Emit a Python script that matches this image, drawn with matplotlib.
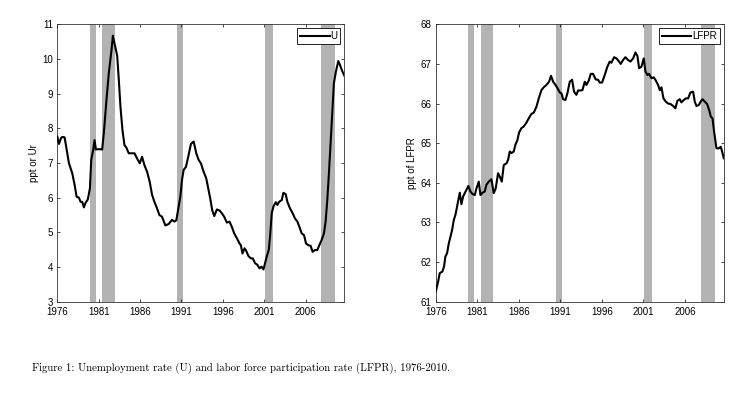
import matplotlib
matplotlib.use("Agg")
import matplotlib.pyplot as plt

# ---------------- data ----------------
u_years = [1976.00, 1976.20, 1976.45, 1976.60, 1976.88, 1977.00, 1977.20, 1977.41, 1977.81, 1978.09,
           1978.33, 1978.61, 1978.81, 1979.01, 1979.21, 1979.41, 1979.69, 1979.94, 1980.10, 1980.34,
           1980.50, 1980.66, 1981.02, 1981.42, 1981.62, 1981.94, 1982.22, 1982.55, 1982.71, 1982.95,
           1983.23, 1983.43, 1983.63, 1983.87, 1984.11, 1984.35, 1984.63, 1985.04, 1985.32, 1985.64,
           1985.96, 1986.24, 1986.52, 1986.84, 1987.16, 1987.45, 1987.73, 1988.05, 1988.33, 1988.65,
           1989.05, 1989.45, 1989.86, 1990.14, 1990.38, 1990.66, 1990.86, 1991.06, 1991.26, 1991.54,
           1991.86, 1992.14, 1992.47, 1992.79, 1993.07, 1993.35, 1993.67, 1993.99, 1994.27, 1994.47,
           1994.71, 1994.96, 1995.28, 1995.60, 1995.88, 1996.16, 1996.48, 1996.80, 1997.08, 1997.37,
           1997.69, 1998.01, 1998.17, 1998.37, 1998.61, 1998.81, 1999.08, 1999.37, 1999.61, 1999.89,
           2000.18, 2000.42, 2000.66, 2000.90, 2001.10, 2001.30, 2001.54, 2001.70, 2001.90, 2002.10,
           2002.39, 2002.59, 2002.79, 2003.11, 2003.31, 2003.59, 2003.79, 2004.11, 2004.43, 2004.71,
           2005.00, 2005.24, 2005.52, 2005.80, 2006.04, 2006.32, 2006.60, 2006.84, 2007.12, 2007.41,
           2007.65, 2007.93, 2008.21, 2008.41, 2008.61, 2008.81, 2009.01, 2009.21, 2009.41, 2009.65,
           2009.94, 2010.14, 2010.42, 2010.67]
u_values = [7.76, 7.55, 7.72, 7.75, 7.74, 7.57, 7.28, 6.99, 6.70, 6.37,
            6.03, 6.00, 5.88, 5.88, 5.72, 5.85, 5.95, 6.27, 7.09, 7.38,
            7.66, 7.39, 7.40, 7.39, 7.86, 8.82, 9.59, 10.26, 10.67, 10.40,
            10.10, 9.40, 8.62, 7.95, 7.52, 7.44, 7.28, 7.28, 7.28, 7.13,
            6.99, 7.18, 6.94, 6.75, 6.46, 6.08, 5.88, 5.69, 5.50, 5.45,
            5.20, 5.24, 5.36, 5.31, 5.35, 5.74, 6.03, 6.51, 6.80, 6.89,
            7.23, 7.55, 7.62, 7.28, 7.09, 6.99, 6.75, 6.56, 6.22, 5.98,
            5.64, 5.47, 5.66, 5.63, 5.55, 5.45, 5.28, 5.31, 5.16, 4.97,
            4.83, 4.68, 4.63, 4.39, 4.54, 4.47, 4.32, 4.25, 4.25, 4.11,
            4.06, 3.96, 4.01, 3.93, 4.11, 4.30, 4.49, 4.88, 5.55, 5.74,
            5.87, 5.79, 5.88, 5.93, 6.14, 6.10, 5.88, 5.69, 5.55, 5.40,
            5.31, 5.16, 4.97, 4.92, 4.68, 4.63, 4.61, 4.44, 4.49, 4.49,
            4.63, 4.78, 4.97, 5.31, 5.93, 6.70, 7.57, 8.48, 9.30, 9.63,
            9.94, 9.83, 9.65, 9.52]

lfpr_years = [1976.00, 1976.28, 1976.48, 1976.80, 1977.00, 1977.16, 1977.36, 1977.57, 1977.77, 1977.97,
              1978.17, 1978.37, 1978.57, 1978.73, 1978.89, 1979.09, 1979.29, 1979.49, 1979.69, 1979.93,
              1980.17, 1980.41, 1980.70, 1980.90, 1981.18, 1981.38, 1981.62, 1981.90, 1982.10, 1982.38,
              1982.70, 1982.98, 1983.22, 1983.50, 1983.70, 1983.95, 1984.19, 1984.51, 1984.71, 1984.91,
              1985.11, 1985.39, 1985.59, 1985.83, 1986.03, 1986.31, 1986.59, 1986.92, 1987.20, 1987.52,
              1987.80, 1988.12, 1988.40, 1988.72, 1989.00, 1989.32, 1989.64, 1989.88, 1990.13, 1990.41,
              1990.65, 1990.93, 1991.13, 1991.33, 1991.61, 1991.85, 1992.13, 1992.41, 1992.65, 1992.93,
              1993.14, 1993.42, 1993.66, 1993.94, 1994.14, 1994.42, 1994.66, 1994.94, 1995.25, 1995.54,
              1995.74, 1996.02, 1996.34, 1996.66, 1996.94, 1997.15, 1997.47, 1997.75, 1998.03, 1998.27,
              1998.55, 1998.83, 1999.15, 1999.44, 1999.76, 2000.04, 2000.28, 2000.48, 2000.76, 2001.04,
              2001.24, 2001.48, 2001.68, 2001.96, 2002.24, 2002.44, 2002.76, 2002.97, 2003.17, 2003.41,
              2003.69, 2003.97, 2004.25, 2004.57, 2004.85, 2005.09, 2005.37, 2005.57, 2005.86, 2006.10,
              2006.38, 2006.66, 2006.98, 2007.18, 2007.38, 2007.66, 2007.90, 2008.10, 2008.38, 2008.66,
              2008.91, 2009.11, 2009.31, 2009.51, 2009.79, 2010.07, 2010.31, 2010.47, 2010.67]
lfpr_values = [61.25, 61.50, 61.72, 61.76, 61.89, 62.14, 62.22, 62.47, 62.64, 62.81,
               63.06, 63.19, 63.40, 63.57, 63.75, 63.46, 63.65, 63.74, 63.82, 63.92,
               63.78, 63.72, 63.69, 63.86, 64.03, 63.69, 63.75, 63.78, 63.95, 64.03,
               64.09, 63.74, 63.86, 64.24, 64.16, 64.03, 64.45, 64.49, 64.58, 64.79,
               64.75, 64.79, 64.96, 65.08, 65.27, 65.38, 65.42, 65.52, 65.63, 65.74,
               65.77, 65.92, 66.13, 66.34, 66.41, 66.47, 66.55, 66.70, 66.55, 66.47,
               66.39, 66.28, 66.26, 66.11, 66.09, 66.26, 66.55, 66.60, 66.30, 66.22,
               66.33, 66.33, 66.34, 66.55, 66.47, 66.58, 66.75, 66.75, 66.61, 66.60,
               66.53, 66.53, 66.72, 66.93, 67.06, 67.03, 67.17, 67.14, 67.07, 67.00,
               67.10, 67.17, 67.10, 67.06, 67.14, 67.29, 67.20, 66.89, 66.93, 67.14,
               66.81, 66.72, 66.75, 66.64, 66.66, 66.60, 66.47, 66.34, 66.41, 66.13,
               66.05, 66.00, 65.99, 65.94, 65.88, 66.07, 66.11, 66.03, 66.09, 66.13,
               66.13, 66.28, 66.30, 66.05, 65.94, 65.96, 66.05, 66.11, 66.05, 65.99,
               65.84, 65.67, 65.63, 65.29, 64.87, 64.87, 64.91, 64.79, 64.62]

recession_start = [1979.92, 1981.45, 1990.45, 2001.08, 2007.88]
recession_end = [1980.62, 1982.92, 1991.20, 2002.07, 2009.58]

x_ticks = [1976, 1981, 1986, 1991, 1996, 2001, 2006]
u_ticks = [3, 4, 5, 6, 7, 8, 9, 10, 11]
lfpr_ticks = [61, 62, 63, 64, 65, 66, 67, 68]

caption = "Figure 1: Unemployment rate (U) and labor force participation rate (LFPR), 1976-2010."

# ---------------- figure ----------------
plt.rcParams['font.family'] = ['Liberation Sans', 'DejaVu Sans']
FS = 7

fig = plt.figure(figsize=(7.5, 3.94), dpi=100)
ax1 = fig.add_axes([0.0764, 0.2343, 0.3827, 0.704])
ax2 = fig.add_axes([0.5810, 0.2343, 0.3840, 0.704])

panels = [
    (ax1, u_years, u_values, "U", "ppt or Ur", (3, 11), u_ticks),
    (ax2, lfpr_years, lfpr_values, "LFPR", "ppt of LFPR", (61, 68), lfpr_ticks),
]

for ax, xs, ys, lab, ylab, ylim, yt in panels:
    for s, e in zip(recession_start, recession_end):
        ax.axvspan(s, e, color='#b3b3b3', lw=0, zorder=1)
    ax.plot(xs, ys, color='black', lw=1.5, label=lab, zorder=3)
    ax.set_xlim(1976, 2010.67)
    ax.set_ylim(*ylim)
    ax.set_xticks(x_ticks)
    ax.set_yticks(yt)
    ax.tick_params(direction='in', length=2.5, width=0.5, top=True, right=True,
                   labelsize=FS, colors='black')
    ax.tick_params(axis='x', pad=3.5)
    ax.tick_params(axis='y', pad=3)
    for sp in ax.spines.values():
        sp.set_linewidth(0.6)
        sp.set_color('#333333')
    ax.set_ylabel(ylab, fontsize=FS, labelpad=2.5)
    leg = ax.legend(loc='upper right', fontsize=FS, handlelength=3.0, handletextpad=0.1,
                    borderpad=0.3, borderaxespad=0.4, fancybox=False, framealpha=1,
                    edgecolor='black')
    leg.get_frame().set_linewidth(0.6)

fig.text(0.042, 0.066, caption, fontsize=7.8, family=['cmr10', 'DejaVu Serif'],
         ha='left', va='center')

fig.savefig("out.png", dpi=100)
